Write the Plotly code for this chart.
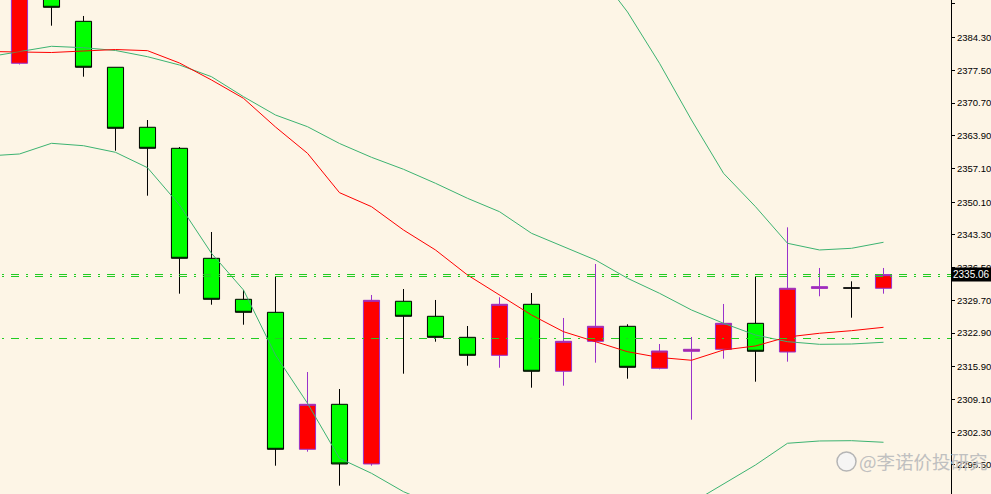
import plotly.graph_objects as go

# ---- data ----
bar_index = list(range(-1, 28))
open_ = [2372.00, 2378.98, 2395.00, 2387.70, 2378.15, 2365.68, 2361.31, 2338.45, 2329.93, 2327.23,
         2298.76, 2308.11, 2295.71, 2329.52, 2326.40, 2322.03, 2318.29, 2328.89, 2314.97, 2321.20,
         2324.32, 2315.59, 2319.13, 2319.54, 2324.94, 2318.98, 2332.20, 2332.29, 2332.22]
high = [2381.00, 2396.00, 2396.50, 2388.81, 2378.15, 2367.19, 2361.58, 2343.92, 2331.86, 2334.63,
        2314.82, 2311.29, 2330.83, 2332.07, 2329.79, 2324.38, 2330.35, 2331.24, 2326.05, 2337.27,
        2324.74, 2320.64, 2322.10, 2328.96, 2334.71, 2344.89, 2336.44, 2333.67, 2336.44]
low = [2370.00, 2378.73, 2386.79, 2376.19, 2360.81, 2351.46, 2331.10, 2328.81, 2324.65, 2295.35,
       2298.26, 2291.20, 2295.35, 2314.47, 2321.12, 2316.13, 2315.71, 2311.56, 2311.98, 2316.76,
       2313.43, 2315.38, 2304.91, 2317.59, 2312.81, 2316.97, 2330.56, 2326.11, 2331.10]
close = [2379.00, 2395.00, 2390.61, 2378.15, 2365.47, 2361.31, 2338.45, 2329.93, 2327.23, 2298.76,
         2308.11, 2295.71, 2329.72, 2326.40, 2322.03, 2318.29, 2328.89, 2314.97, 2321.20, 2324.32,
         2315.80, 2319.19, 2319.54, 2324.94, 2319.13, 2332.22, 2332.55, 2332.27, 2335.06]

ma_red = [2381.43, 2381.33, 2381.22, 2381.53, 2381.84, 2381.60, 2379.04, 2375.51, 2371.70, 2365.74,
          2360.27, 2352.09, 2349.18, 2344.33, 2340.18, 2334.98, 2330.83, 2326.67, 2323.20, 2321.12,
          2319.04, 2317.84, 2317.26, 2319.40, 2320.23, 2322.10, 2322.87, 2323.41, 2324.11]
band_mid = [2380.29, 2381.39, 2382.51, 2382.22, 2381.64, 2380.35, 2378.62, 2376.19, 2372.04, 2368.23,
            2365.80, 2362.31, 2359.44, 2356.95, 2354.04, 2350.92, 2348.14, 2343.65, 2340.86, 2338.10,
            2334.30, 2331.18, 2327.71, 2324.95, 2322.51, 2321.12, 2320.58, 2320.64, 2321.00]
band_up = [2402.94, 2402.52, 2402.67, 2402.58, 2402.79, 2403.42, 2407.72, 2412.91, 2412.21, 2419.50,
           2423.30, 2427.67, 2425.11, 2423.93, 2420.81, 2417.69, 2415.41, 2408.34, 2403.98, 2398.37,
           2389.64, 2378.98, 2367.19, 2356.12, 2349.18, 2341.57, 2340.18, 2340.53, 2341.78]
band_low = [2359.71, 2360.13, 2362.35, 2361.85, 2360.48, 2357.28, 2349.53, 2339.49, 2331.87, 2318.36,
            2308.32, 2296.89, 2293.77, 2289.95, 2287.19, 2284.07, 2280.95, 2278.87, 2277.84, 2277.84,
            2278.87, 2283.66, 2287.60, 2291.70, 2295.50, 2300.01, 2300.49, 2300.55, 2300.22]

hlines_double = [2335.085, 2334.67]
hline_single = [2321.785]
last_price = 2335.06
tick_labels = ["2391.30", "2384.30", "2377.50", "2370.70", "2363.90", "2357.10", "2350.10",
               "2343.30", "2336.50", "2329.70", "2322.90", "2315.90", "2309.10", "2302.30", "2295.50"]
watermark = "@李诺价投研究"

BG = "#FDF5E6"

fig = go.Figure()
fig.add_trace(go.Candlestick(
    x=bar_index, open=open_, high=high, low=low, close=close,
    increasing=dict(line=dict(color="#9932CC", width=1), fillcolor="#FF0000"),
    decreasing=dict(line=dict(color="#000000", width=1), fillcolor="#00FF00"),
    whiskerwidth=0, hoverinfo="skip", showlegend=False,
))
for ys, col in [(band_up, "#3CB371"), (band_mid, "#3CB371"), (band_low, "#3CB371"), (ma_red, "#FF0000")]:
    fig.add_trace(go.Scatter(x=bar_index, y=ys, mode="lines", line=dict(color=col, width=1),
                             hoverinfo="skip", showlegend=False))

dash = "8px,7px,2px,7px"
for v in hlines_double + hline_single:
    fig.add_shape(type="line", xref="paper", yref="y", x0=-13 / 951, x1=1, y0=v, y1=v,
                  line=dict(color="#22CC22", width=1, dash=dash), layer="above")

fig.add_annotation(xref="paper", yref="y", x=1, y=last_price, xanchor="left", yanchor="middle",
                   xshift=0, text=f"{last_price:.2f}", showarrow=False, bgcolor="#000000",
                   font=dict(color="#FFFFFF", size=10, family="Liberation Sans"), borderpad=1)

# watermark
fig.add_shape(type="circle", xref="paper", yref="paper",
              x0=837 / 951, x1=856 / 951, y0=1 - 471 / 494, y1=1 - 452 / 494,
              fillcolor="rgba(245,245,245,0.9)", line=dict(color="#b5b5b5", width=1.5), layer="above")
fig.add_annotation(xref="paper", yref="paper", x=857 / 951, y=1 - 461 / 494, xanchor="left",
                   yanchor="middle", text=watermark, showarrow=False,
                   font=dict(family="Noto Sans CJK SC", size=18.5, color="#c0c0c0"))

fig.update_layout(
    width=991, height=494, margin=dict(l=0, r=40, t=0, b=0, autoexpand=False),
    paper_bgcolor=BG, plot_bgcolor=BG, showlegend=False, boxgap=0.28,
    xaxis=dict(range=[-0.609, 29.109], visible=False, rangeslider=dict(visible=False),
               fixedrange=True, automargin=False),
    yaxis=dict(range=[2289.47, 2392.13], side="right", showgrid=False, zeroline=False,
               showline=True, linecolor="#000000", linewidth=1, ticks="outside", ticklen=3,
               tickcolor="#000000", tickvals=[float(t) for t in tick_labels], ticktext=tick_labels,
               tickfont=dict(family="Liberation Sans", size=9.5, color="#000000"),
               fixedrange=True, automargin=False),
)
fig.write_html("out.html", config={"displayModeBar": False},
               post_script="document.body.style.margin='0';document.body.style.background='#FDF5E6';")
